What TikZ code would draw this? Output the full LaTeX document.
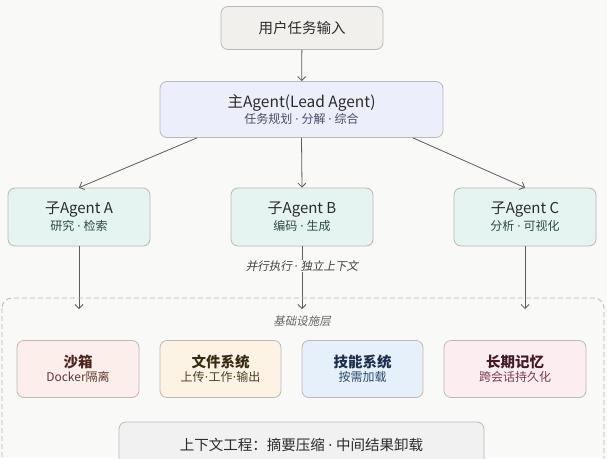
\documentclass[tikz,border=0pt]{standalone}
\usepackage{fontspec}
\setmainfont{Noto Sans CJK SC}
\newfontfamily\slantcjk[FakeSlant=0.2]{Noto Sans CJK SC}
\newfontfamily\dotfont{DejaVu Sans}
\newcommand\mdot{{\dotfont ·}}
\usetikzlibrary{arrows.meta}
\definecolor{bg}{HTML}{F9F9F7}
\definecolor{edge}{HTML}{B9B9B6}
\definecolor{wire}{HTML}{5C5C5C}
\definecolor{ink}{HTML}{2B2B2B}
\tikzset{
  box/.style={draw=edge,line width=0.8pt,rounded corners=7pt,align=center,
    inner sep=0pt,text=ink},
  flow/.style={draw=wire,line width=0.8pt,-{Straight Barb[length=4pt,width=8pt]}},
}
\begin{document}
\begin{tikzpicture}[x=1pt,y=-1pt]
   \fill[bg] (0,0) rectangle (607,458);
   \useasboundingbox (0,0) rectangle (607,458);
   % top: user input and lead agent
   \node[box,fill={rgb,255:red,241;green,240;blue,236},minimum width=162pt,minimum height=43pt,font=\fontsize{14.5}{17}\selectfont]
     (user) at (302,28) {用户任务输入};
   \node[box,fill={rgb,255:red,236;green,239;blue,251},minimum width=283pt,minimum height=56pt]
     (lead) at (301.5,109.5) {{\fontsize{15.5}{18}\selectfont 主Agent(Lead Agent)}\\[1.5pt]
     {\fontsize{12}{14}\selectfont\color[HTML]{4A4A66}任务规划 \mdot{} 分解 \mdot{} 综合}};
   \draw[flow] (user) -- (lead);
   % sub agents
   \foreach \nm/\x/\ttl/\sub in {subA/79/子Agent A/研究 \mdot{} 检索,subB/302/子Agent B/编码 \mdot{} 生成,subC/525/子Agent C/分析 \mdot{} 可视化}{
     \node[box,fill={rgb,255:red,229;green,244;blue,240},minimum width=142pt,minimum height=58pt]
       (\nm) at (\x,217) {{\fontsize{15}{18}\selectfont \ttl}\\[2pt]
       {\fontsize{12}{14}\selectfont\color[HTML]{2C4A47}\sub}};
     \coordinate (t\nm) at (\x,309);
   }
   \draw[flow] ([xshift=-104.5pt]lead.south) -- (subA.north);
   \draw[flow] (lead.south) -- (subB.north);
   \draw[flow] ([xshift=111.5pt]lead.south) -- (subC.north);
   \draw[flow] (subA.south) -- (tsubA);
   \draw[flow] (subC.south) -- (tsubC);
   \draw[flow] (subB.south) -- (tsubB);
   \node[fill=bg,inner sep=1pt,text=ink!90,font=\slantcjk\fontsize{11.5}{13}\selectfont]
     (par) at (302,266) {并行执行 \mdot{} 独立上下文};
   % infrastructure layer
   \draw[edge,line width=0.8pt,dash pattern=on 5pt off 3pt,rounded corners=10pt]
     (2,298) rectangle (604,480);
   \node[text=gray!80!black,font=\slantcjk\fontsize{11.5}{13}\selectfont] (infra) at (302,321) {基础设施层};
   \node[box,fill={rgb,255:red,251;green,238;blue,235},minimum width=122pt,minimum height=57pt]
     (sandbox) at (78,369) {{\fontsize{14.5}{17}\selectfont\bfseries\color[HTML]{4E241C}沙箱}\\[2pt]
     {\fontsize{12}{14}\selectfont\color[HTML]{5E3A32}Docker隔离}};
   \node[box,fill={rgb,255:red,252;green,243;blue,228},minimum width=121pt,minimum height=57pt]
     (files) at (220.5,369) {{\fontsize{14.5}{17}\selectfont\bfseries\color[HTML]{3A2A12}文件系统}\\[2pt]
     {\fontsize{12}{14}\selectfont\color[HTML]{4E3C22}上传\mdot{}工作\mdot{}输出}};
   \node[box,fill={rgb,255:red,230;green,240;blue,251},minimum width=121pt,minimum height=57pt]
     (skills) at (362.5,369) {{\fontsize{14.5}{17}\selectfont\bfseries\color[HTML]{1E2E4C}技能系统}\\[2pt]
     {\fontsize{12}{14}\selectfont\color[HTML]{2F4A6E}按需加载}};
   \node[box,fill={rgb,255:red,252;green,237;blue,241},minimum width=142pt,minimum height=57pt]
     (memory) at (515,369) {{\fontsize{14.5}{17}\selectfont\bfseries\color[HTML]{441A28}长期记忆}\\[2pt]
     {\fontsize{12}{14}\selectfont\color[HTML]{7A3A52}跨会话持久化}};
   \node[box,fill=gray!11,minimum width=365pt,minimum height=46pt,font=\fontsize{14.5}{17}\selectfont]
     (ctx) at (301.5,445) {上下文工程：摘要压缩 \mdot{} 中间结果卸载};
\end{tikzpicture}
\end{document}
